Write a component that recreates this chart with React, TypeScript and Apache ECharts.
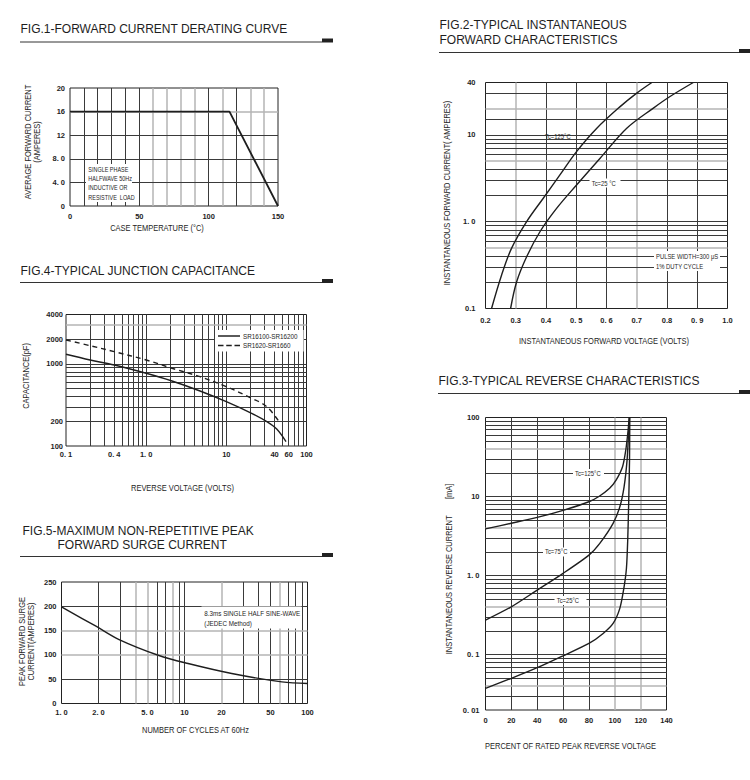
import React, { useEffect, useRef } from 'react';
import * as echarts from 'echarts';

// ---------- FIG.1 ----------
const FIG1_TEMP = [0, 115, 150];
const FIG1_CURRENT = [16, 16, 0];
const FIG1_X_TICKS = [0, 50, 100, 150];
const FIG1_X_LABELS = ['0', '50', '100', '150'];
const FIG1_Y_TICKS = [0, 4, 8, 12, 16, 20];
const FIG1_Y_LABELS = ['0', '4. 0', '8. 0', '12', '16', '20'];
const FIG1_X_GRID = [10, 20, 30, 40, 50, 60, 70, 80, 90, 100, 110, 120, 130, 140];
const FIG1_X_GRAY = [60, 70, 80, 90, 110, 130, 140];
const FIG1_Y_GRID = [4, 8, 12, 16];
const FIG1_Y_GRAY = [16];

// ---------- FIG.2 ----------
const FIG2_TC125_V = [0.22, 0.253, 0.286, 0.336, 0.391, 0.446, 0.501, 0.568, 0.645, 0.7, 0.75];
const FIG2_TC125_I = [0.1, 0.242, 0.492, 1.0, 1.86, 3.45, 6.4, 11.9, 21.1, 30.2, 40];
const FIG2_TC25_V = [0.283, 0.303, 0.336, 0.38, 0.435, 0.501, 0.579, 0.667, 0.755, 0.81, 0.887];
const FIG2_TC25_I = [0.1, 0.203, 0.394, 0.765, 1.42, 2.64, 5.37, 11.9, 20.3, 27.6, 40];
const FIG2_X_TICKS = [0.2, 0.3, 0.4, 0.5, 0.6, 0.7, 0.8, 0.9, 1.0];
const FIG2_X_LABELS = ['0.2', '0.3', '0.4', '0. 5', '0. 6', '0.7', '0.8', '0. 9', '1.0'];
const FIG2_Y_TICKS = [0.1, 1, 10, 40];
const FIG2_Y_LABELS = ['0.1', '1. 0', '10', '40'];
const FIG2_X_GRID = [0.3, 0.4, 0.5, 0.6, 0.7, 0.8, 0.9];
const FIG2_X_GRAY = [0.3, 0.7];
const FIG2_Y_GRID = [0.2, 0.3, 0.4, 0.5, 0.6, 0.7, 0.8, 0.9, 1, 2, 3, 4, 5, 6, 7, 8, 9, 10, 15, 20, 30];
const FIG2_Y_GRAY = [0.5, 5, 20];

// ---------- FIG.3 ----------
const FIG3_TC125_PCT = [0, 20, 40, 60, 80, 88, 96, 101, 106, 108.5, 110.3, 111.1];
const FIG3_TC125_MA = [3.9, 4.6, 5.45, 6.7, 8.6, 10.1, 12.7, 16.1, 23.8, 38.6, 69, 100];
const FIG3_TC75_PCT = [0, 20, 40, 60, 80, 88.4, 98.7, 103.9, 107.2, 109.5, 110.8, 111.4];
const FIG3_TC75_MA = [0.274, 0.404, 0.657, 1.07, 1.82, 2.56, 4.58, 7.42, 13.3, 28.9, 69, 100];
const FIG3_TC25_PCT = [0, 20, 40, 60, 80, 91, 98.7, 103.9, 107, 109, 110, 110.8, 111.4, 111.6];
const FIG3_TC25_MA = [0.0376, 0.0503, 0.0685, 0.097, 0.139, 0.186, 0.249, 0.386, 0.69, 1.23, 2.81, 9.0, 28.9, 100];
const FIG3_Y_TICKS = [0.02, 0.1, 1, 10, 100];
const FIG3_Y_LABELS = ['0. 01', '0. 1', '1. 0', '10', '100'];
const FIG3_X_TICKS = [0, 20, 40, 60, 80, 100, 120, 140];
const FIG3_X_LABELS = ['0', '20', '40', '60', '80', '100', '120', '140'];
const FIG3_X_GRID = [20, 40, 60, 80, 100, 120];
const FIG3_X_GRAY = [100, 120];
const FIG3_Y_GRID = [0.03, 0.04, 0.05, 0.06, 0.07, 0.08, 0.09, 0.1, 0.2, 0.3, 0.4, 0.5, 0.6, 0.7, 0.8, 0.9, 1,
  2, 3, 4, 5, 6, 7, 8, 9, 10, 20, 30, 40, 50, 60, 70, 80, 90];
const FIG3_Y_GRAY = [0.04, 0.4, 4, 40];

// ---------- FIG.4 ----------
const FIG4_SERIES_A = 'SR16100-SR16200';
const FIG4_SERIES_B = 'SR1620-SR1660';
const FIG4_A_V = [0.1, 0.2, 0.4, 1, 2.1, 4.7, 10, 20.7, 32, 42.5, 55.5];
const FIG4_A_PF = [1310, 1116, 970, 769, 619, 468, 347, 250, 198, 161, 113];
const FIG4_B_V = [0.1, 0.2, 0.4, 1, 2.1, 4.7, 10, 20.7, 32, 47];
const FIG4_B_PF = [1956, 1667, 1409, 1116, 885, 699, 528, 381, 301, 189];
const FIG4_X_TICKS = [0.1, 0.4, 1, 10, 40, 60, 100];
const FIG4_X_LABELS = ['0. 1', '0. 4', '1. 0', '10', '40', '60', '100'];
const FIG4_Y_TICKS = [100, 200, 1000, 2000, 4000];
const FIG4_Y_LABELS = ['100', '200', '1000', '2000', '4000'];
const FIG4_X_GRID = [0.2, 0.3, 0.4, 0.5, 0.6, 0.7, 0.8, 0.9, 1, 2, 3, 4, 5, 6, 7, 8, 9, 10, 20, 30, 40, 50, 60, 70, 80, 90];
const FIG4_X_GRAY: number[] = [];
const FIG4_Y_GRID = [200, 300, 400, 500, 600, 700, 800, 900, 1000, 2000, 3000];
const FIG4_Y_GRAY = [3000];

// ---------- FIG.5 ----------
const FIG5_CYCLES = [1, 1.89, 2.94, 6.12, 10.7, 24.2, 61.9, 100];
const FIG5_AMPS = [198.6, 159.5, 131.6, 99.3, 82.2, 61.7, 44.4, 41.1];
const FIG5_X_TICKS = [1, 2, 5, 10, 20, 50, 100];
const FIG5_X_LABELS = ['1. 0', '2. 0', '5. 0', '10', '20', '50', '100'];
const FIG5_Y_TICKS = [0, 50, 100, 150, 200, 250];
const FIG5_Y_LABELS = ['0', '50', '100', '150', '200', '250'];
const FIG5_X_GRID = [2, 3, 4, 5, 6, 7, 8, 9, 10, 20, 30, 40, 50, 60, 70, 80, 90];
const FIG5_X_GRAY = [4, 5, 8, 20, 60];
const FIG5_Y_GRID = [50, 100, 150, 200];
const FIG5_Y_GRAY = [100, 150];

const SANS = '"Liberation Sans", Arial, sans-serif';
const INK = '#1e1e1e';

function fmt(ticks: number[], labels: string[]) {
  return (v: number) => {
    for (let i = 0; i < ticks.length; i++) {
      if (Math.abs(ticks[i] - v) <= Math.abs(ticks[i]) * 1e-6 + 1e-9) return labels[i];
    }
    return '';
  };
}

function pairs(xs: number[], ys: number[]) {
  return xs.map((x, i) => [x, ys[i]]);
}

const tickFont = { fontSize: 7.5, fontWeight: 'bold', fontFamily: SANS, color: INK };

function axis(gridIndex: number, type: string, min: number, max: number, ticks: number[], labels: string[], margin: number, interval?: number) {
  const a: any = {
    type,
    gridIndex,
    min,
    max,
    axisLine: { show: false },
    axisTick: { show: false },
    splitLine: { show: false },
    minorSplitLine: { show: false },
    axisLabel: { ...tickFont, margin, formatter: fmt(ticks, labels) },
  };
  if (type === 'log') {
    a.logBase = 10;
    a.axisLabel.customValues = ticks;
  } else if (interval !== undefined) {
    a.interval = interval;
  }
  return a;
}

function gridSeries(idx: number, xVals: number[], xGray: number[], yVals: number[], yGray: number[]) {
  const dark = { color: '#3a3a3a', width: 1, type: 'solid' };
  const gray = { color: '#b4b4b4', width: 1.5, type: 'solid' };
  const data = [
    ...xVals.map((v) => ({ xAxis: v, lineStyle: xGray.includes(v) ? gray : dark })),
    ...yVals.map((v) => ({ yAxis: v, lineStyle: yGray.includes(v) ? gray : dark })),
  ];
  return {
    type: 'line',
    xAxisIndex: idx,
    yAxisIndex: idx,
    data: [],
    z: 1,
    silent: true,
    markLine: {
      z: 1,
      silent: true,
      symbol: ['none', 'none'],
      label: { show: false },
      lineStyle: { type: 'solid' },
      emphasis: { disabled: true },
      animation: false,
      data,
    },
  };
}

function curve(idx: number, name: string, data: number[][], extra: any = {}) {
  return {
    type: 'line',
    name,
    xAxisIndex: idx,
    yAxisIndex: idx,
    data,
    symbol: 'none',
    showSymbol: false,
    smooth: 0.35,
    z: 10,
    silent: true,
    lineStyle: { color: INK, width: 1.4 },
    itemStyle: { color: INK },
    ...extra,
  };
}

function txt(text: string, x: number, y: number, size: number, align = 'left', scaleX = 1) {
  return {
    type: 'text',
    x,
    y,
    scaleX,
    z: 100,
    silent: true,
    style: {
      text,
      fontSize: size,
      fontFamily: SANS,
      fill: INK,
      align,
      verticalAlign: 'middle',
      textAlign: align,
      textVerticalAlign: 'middle',
    },
  };
}

function vtxt(text: string, x: number, y: number, size: number, scaleX = 0.88, lineHeight = 9) {
  return {
    type: 'text',
    x,
    y,
    scaleX,
    rotation: Math.PI / 2,
    z: 100,
    silent: true,
    style: {
      text,
      fontSize: size,
      fontFamily: SANS,
      fill: INK,
      align: 'center',
      verticalAlign: 'middle',
      textAlign: 'center',
      textVerticalAlign: 'middle',
      lineHeight,
    },
  };
}

function whiteBox(x: number, y: number, w: number, h: number) {
  return { type: 'rect', z: 90, silent: true, shape: { x, y, width: w, height: h }, style: { fill: '#fff' } };
}

function rule(x1: number, x2: number, y: number) {
  return [
    { type: 'line', z: 100, silent: true, shape: { x1, y1: y, x2, y2: y }, style: { stroke: '#333', lineWidth: 1 } },
    { type: 'rect', z: 100, silent: true, shape: { x: x2, y: y - 3.5, width: 11, height: 4 }, style: { fill: '#222' } },
  ];
}

const N = 0.84; // horizontal squeeze for the condensed annotation lettering
const AX = 0.88; // squeeze for axis titles

export default function App() {
  const ref = useRef<HTMLDivElement>(null);

  useEffect(() => {
    if (!ref.current) return;
    const chart = echarts.init(ref.current, undefined, { renderer: 'svg' });

    const gridStyle = { show: true, borderColor: '#222', borderWidth: 1, backgroundColor: 'transparent', containLabel: false };

    const option: any = {
      animation: false,
      backgroundColor: '#fff',
      grid: [
        { ...gridStyle, left: 70, top: 88, width: 208, height: 118 },
        { ...gridStyle, left: 485.5, top: 82.5, width: 242, height: 226 },
        { ...gridStyle, left: 485.5, top: 417.5, width: 181, height: 292.5 },
        { ...gridStyle, left: 66, top: 314.5, width: 240.5, height: 131.5 },
        { ...gridStyle, left: 61.5, top: 582, width: 246, height: 121.5 },
      ],
      xAxis: [
        axis(0, 'value', 0, 150, FIG1_X_TICKS, FIG1_X_LABELS, 6, 50),
        axis(1, 'value', 0.2, 1.0, FIG2_X_TICKS, FIG2_X_LABELS, 8, 0.1),
        axis(2, 'value', 0, 140, FIG3_X_TICKS, FIG3_X_LABELS, 6, 20),
        axis(3, 'log', 0.1, 100, FIG4_X_TICKS, FIG4_X_LABELS, 4),
        axis(4, 'log', 1, 100, FIG5_X_TICKS, FIG5_X_LABELS, 5),
      ],
      yAxis: [
        axis(0, 'value', 0, 20, FIG1_Y_TICKS, FIG1_Y_LABELS, 5, 4),
        axis(1, 'log', 0.1, 40, FIG2_Y_TICKS, FIG2_Y_LABELS, 10),
        axis(2, 'log', 0.02, 100, FIG3_Y_TICKS, FIG3_Y_LABELS, 6),
        axis(3, 'log', 100, 4000, FIG4_Y_TICKS, FIG4_Y_LABELS, 3),
        axis(4, 'value', 0, 250, FIG5_Y_TICKS, FIG5_Y_LABELS, 5, 50),
      ],
      legend: {
        z: 50,
        data: [
          { name: FIG4_SERIES_A, icon: 'path://M0,0H24V1.6H0Z' },
          { name: FIG4_SERIES_B, icon: 'path://M0,0H6V1.6H0Z M9,0H15V1.6H9Z M18,0H24V1.6H18Z' },
        ],
        left: 215,
        top: 330,
        orient: 'vertical',
        itemWidth: 22,
        itemHeight: 1.5,
        itemGap: 3.5,
        padding: [3, 6, 3, 3],
        backgroundColor: '#fff',
        selectedMode: false,
        itemStyle: { color: INK, borderWidth: 0 },
        lineStyle: { inactiveWidth: 0 },
        textStyle: { fontSize: 6.3, fontFamily: SANS, color: INK, padding: [0, 0, 0, -2] },
      },
      series: [
        gridSeries(0, FIG1_X_GRID, FIG1_X_GRAY, FIG1_Y_GRID, FIG1_Y_GRAY),
        gridSeries(1, FIG2_X_GRID, FIG2_X_GRAY, FIG2_Y_GRID, FIG2_Y_GRAY),
        gridSeries(2, FIG3_X_GRID, FIG3_X_GRAY, FIG3_Y_GRID, FIG3_Y_GRAY),
        gridSeries(3, FIG4_X_GRID, FIG4_X_GRAY, FIG4_Y_GRID, FIG4_Y_GRAY),
        gridSeries(4, FIG5_X_GRID, FIG5_X_GRAY, FIG5_Y_GRID, FIG5_Y_GRAY),
        curve(0, 'Derating', pairs(FIG1_TEMP, FIG1_CURRENT), { smooth: false, lineStyle: { color: INK, width: 1.8 } }),
        curve(1, 'Tc=125°C fwd', pairs(FIG2_TC125_V, FIG2_TC125_I)),
        curve(1, 'Tc=25°C fwd', pairs(FIG2_TC25_V, FIG2_TC25_I)),
        curve(2, 'Tc=125°C rev', pairs(FIG3_TC125_PCT, FIG3_TC125_MA), { smooth: 0.25 }),
        curve(2, 'Tc=75°C rev', pairs(FIG3_TC75_PCT, FIG3_TC75_MA), { smooth: 0.25 }),
        curve(2, 'Tc=25°C rev', pairs(FIG3_TC25_PCT, FIG3_TC25_MA), { smooth: 0.25 }),
        curve(3, FIG4_SERIES_A, pairs(FIG4_A_V, FIG4_A_PF)),
        curve(3, FIG4_SERIES_B, pairs(FIG4_B_V, FIG4_B_PF), { lineStyle: { color: INK, width: 1.4, type: [5, 4] } }),
        curve(4, 'Surge', pairs(FIG5_CYCLES, FIG5_AMPS)),
      ],
      graphic: [
        // titles
        txt('FIG.1-FORWARD CURRENT DERATING CURVE', 20.5, 29, 12),
        ...rule(20, 322, 42),
        txt('FIG.2-TYPICAL INSTANTANEOUS', 439.5, 25, 12),
        txt('FORWARD CHARACTERISTICS', 439.5, 39.5, 12),
        ...rule(439, 739, 52.5),
        txt('FIG.3-TYPICAL REVERSE CHARACTERISTICS', 438.5, 380.5, 12),
        ...rule(438, 739, 393.5),
        txt('FIG.4-TYPICAL JUNCTION CAPACITANCE', 20.5, 270.5, 12),
        ...rule(20, 322, 282.5),
        txt('FIG.5-MAXIMUM NON-REPETITIVE PEAK', 22.5, 530.5, 12),
        txt('FORWARD SURGE CURRENT', 57.5, 545, 12),
        ...rule(20, 322, 556.5),
        // axis names
        vtxt('AVERAGE FORWARD CURRENT\n(AMPERES)', 32.5, 142, 8.5, AX),
        txt('CASE TEMPERATURE (°C)', 157, 228, 8.5, 'center', AX),
        vtxt('INSTANTANEOUS FORWARD CURRENT( AMPERES)', 447.5, 193, 8.5, AX),
        txt('INSTANTANEOUS FORWARD VOLTAGE (VOLTS)', 604, 341.5, 8.5, 'center', AX),
        vtxt('INSTANTANEOUS REVERSE CURRENT        [mA]', 449.5, 569, 8.5, AX),
        txt('PERCENT OF RATED PEAK REVERSE VOLTAGE', 570.5, 746.5, 8.5, 'center', AX),
        vtxt('CAPACITANCE(pF)', 26.5, 376, 8.5, AX),
        txt('REVERSE VOLTAGE (VOLTS)', 182.5, 488.5, 8.5, 'center', AX),
        vtxt('PEAK FORWARD SURGE\nCURRENT(AMPERES)', 26.5, 641.5, 8.5, AX),
        txt('NUMBER OF CYCLES AT 60Hz', 195.5, 730, 8.5, 'center', AX),
        // fig1 annotation
        whiteBox(86, 164, 46, 38),
        txt('SINGLE PHASE', 88.3, 169.5, 6.5, 'left', N),
        txt('HALFWAVE 50Hz', 88.3, 178.8, 6.5, 'left', N),
        txt('INDUCTIVE OR', 88.3, 188.1, 6.5, 'left', N),
        txt('RESISTIVE  LOAD', 88.3, 197.4, 6.5, 'left', N),
        // fig2 annotations
        txt('Tc=125°C', 545, 136.5, 7, 'left', N),
        whiteBox(589.5, 178.5, 31, 9),
        txt('Tc=25 °C', 591.7, 183.3, 7, 'left', N),
        whiteBox(654, 251, 66, 20),
        txt('PULSE WIDTH=300 μS', 656, 256.7, 7, 'left', N),
        txt('1% DUTY CYCLE', 656, 266, 7, 'left', N),
        // fig3 annotations
        whiteBox(573, 469, 31, 9),
        txt('Tc=125°C', 575, 473.3, 7, 'left', N),
        whiteBox(543, 547.5, 27, 9),
        txt('Tc=75°C', 545, 551.7, 7, 'left', N),
        whiteBox(554.5, 596, 32, 9),
        txt('Tc=25°C', 556.7, 600, 7, 'left', N),
        // fig5 annotation
        whiteBox(201.5, 606.5, 100, 22),
        txt('8.3ms SINGLE HALF SINE-WAVE', 204.3, 613.3, 7.5, 'left', N),
        txt('(JEDEC Method)', 204.3, 623.3, 7.5, 'left', N),
      ],
    };

    chart.setOption(option);
    return () => chart.dispose();
  }, []);

  return (
    <div
      ref={ref}
      style={{ position: 'absolute', left: 0, top: 0, width: 750, height: 780, background: '#fff' }}
    />
  );
}
